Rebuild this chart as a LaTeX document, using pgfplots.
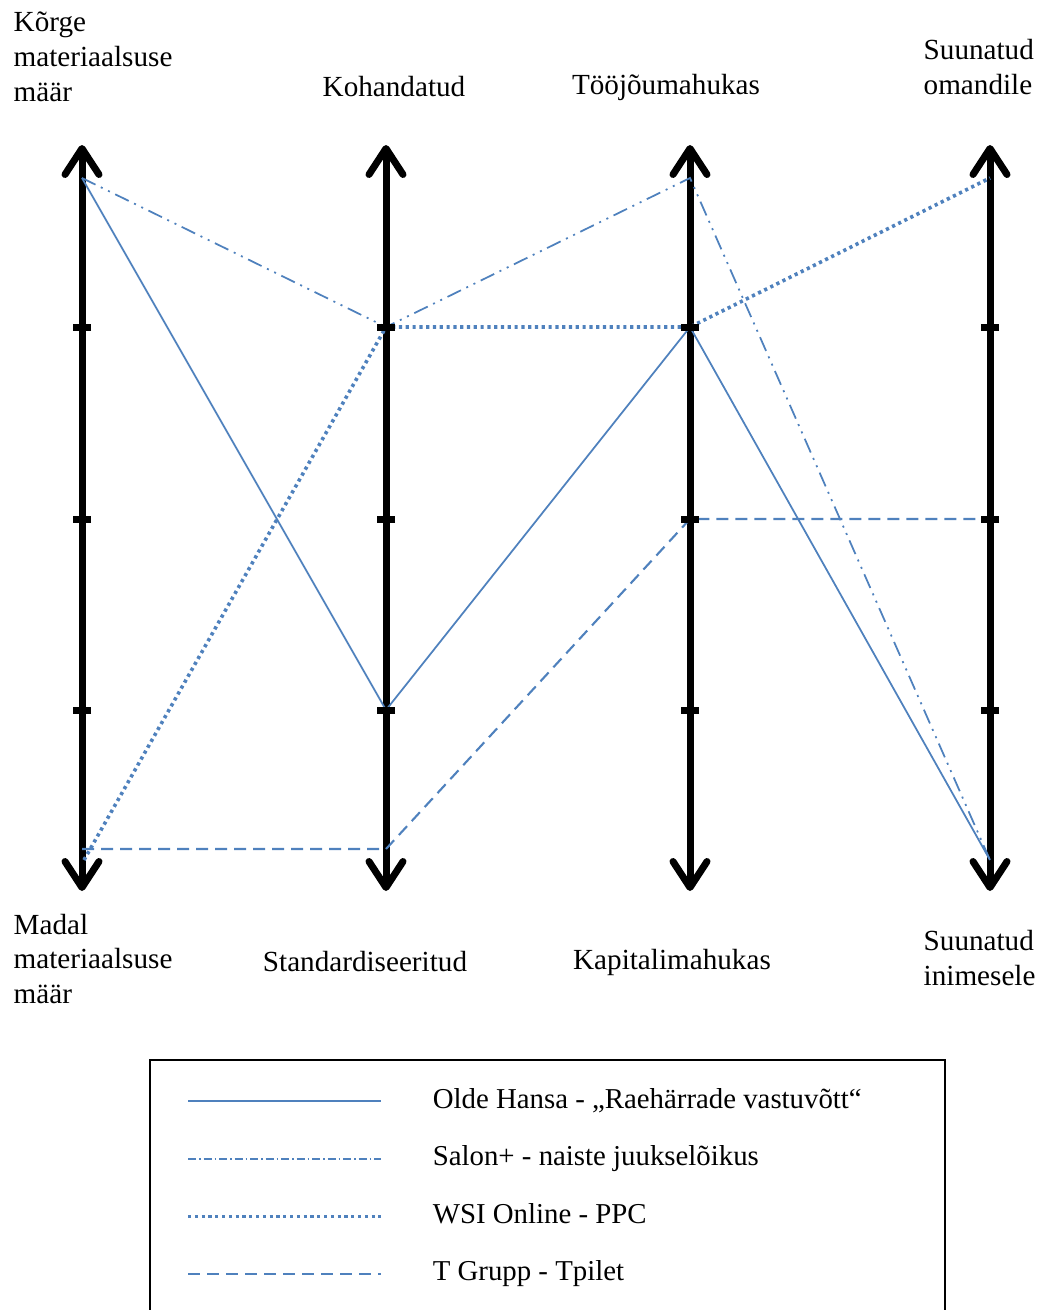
\documentclass[border=0pt]{standalone}
\usepackage{fontspec}
\setmainfont{Liberation Serif}
\usepackage{pgfplots}
\pgfplotsset{compat=1.18}
\usetikzlibrary{arrows.meta}
\definecolor{lineblue}{RGB}{79,129,189}

\pgfplotsset{
  axisline/.style={black, line width=0.07cm,
    arrows={Straight Barb[length=2.6mm,width=3.4mm,round]-Straight Barb[length=2.6mm,width=3.4mm,round]}},
  olde/.style={lineblue, line width=0.5pt},
  salon/.style={lineblue, line width=0.5pt,
    dash pattern=on 0.15cm off 0.06cm on 0.02cm off 0.06cm on 0.02cm off 0.06cm},
  wsi/.style={lineblue, line width=0.036cm, dash pattern=on 0.032cm off 0.036cm},
  tgrupp/.style={lineblue, line width=0.6pt, dash pattern=on 0.12cm off 0.07cm},
}

\begin{document}
\fontsize{8.3}{9.9}\selectfont
\begin{tikzpicture}
\begin{axis}[
    scale only axis,
    width=10.43cm, height=13.10cm,
    xmin=0, xmax=1043, ymin=0, ymax=1310,
    y dir=reverse,
    hide axis,
    clip=false,
    legend cell align=left,
    legend image code/.code={\draw[#1] (0cm,0cm) -- (1.93cm,0cm);},
    legend style={draw=none, fill=none,
      at={(axis cs:175,1080)}, anchor=north west,
      row sep=0.305cm, column sep=0.5cm,
      nodes={inner sep=0pt, text height=5.8pt, text depth=1.9pt,
        font=\fontsize{8.2}{9.9}\selectfont}},
]
% vertical axes
\addplot[axisline, forget plot] coordinates {(82,145) (82,891)};
\addplot[axisline, forget plot] coordinates {(386,145) (386,891)};
\addplot[axisline, forget plot] coordinates {(690,145) (690,891)};
\addplot[axisline, forget plot] coordinates {(990,145) (990,891)};
% tick marks on the axes
\addplot[only marks, forget plot, mark=-, mark size=0.09cm, mark options={black, line width=0.07cm}]
  coordinates {(82,327) (82,519) (82,710)
               (386,327) (386,519) (386,710)
               (690,327) (690,519) (690,710)
               (990,327) (990,519) (990,710)};

% series
\addplot[olde, forget plot] coordinates {(82,178) (386,710) (690,327) (990,860)};
\addplot[salon, forget plot] coordinates {(82,178) (386,327) (690,178) (990,860)};
\addplot[wsi, forget plot] coordinates {(84,860) (386,327) (690,327) (990,178)};
\addplot[tgrupp, forget plot] coordinates {(82,849) (386,849) (690,519) (990,519)};

% legend
\addlegendimage{olde}
\addlegendentry{Olde Hansa - „Raehärrade vastuvõtt“}
\addlegendimage{lineblue, line width=0.45pt, dash pattern=on 0.08cm off 0.03cm on 0.015cm off 0.03cm}
\addlegendentry{Salon+ - naiste juukselõikus}
\addlegendimage{wsi}
\addlegendentry{WSI Online - PPC}
\addlegendimage{tgrupp}
\addlegendentry{T Grupp - Tpilet}

% axis labels
\node[anchor=west, align=left, inner xsep=0pt] at (axis cs:13,57) {Kõrge\\materiaalsuse\\määr};
\node at (axis cs:394,87) {Kohandatud};
\node at (axis cs:666,87) {Tööjõumahukas};
\node[anchor=west, align=left, inner xsep=0pt] at (axis cs:923,67) {Suunatud\\omandile};
\node[anchor=west, align=left, inner xsep=0pt] at (axis cs:13,959) {Madal\\materiaalsuse\\määr};
\node at (axis cs:365,962) {Standardiseeritud};
\node at (axis cs:672,962) {Kapitalimahukas};
\node[anchor=west, align=left, inner xsep=0pt] at (axis cs:923,958) {Suunatud\\inimesele};

% legend frame
\draw[black, line width=0.6pt] (axis cs:150,1340) -- (axis cs:150,1060) -- (axis cs:945,1060) -- (axis cs:945,1340);
\end{axis}
\pgfresetboundingbox
\path[use as bounding box] (0,0) rectangle (10.43cm,13.10cm);
\end{tikzpicture}
\end{document}
